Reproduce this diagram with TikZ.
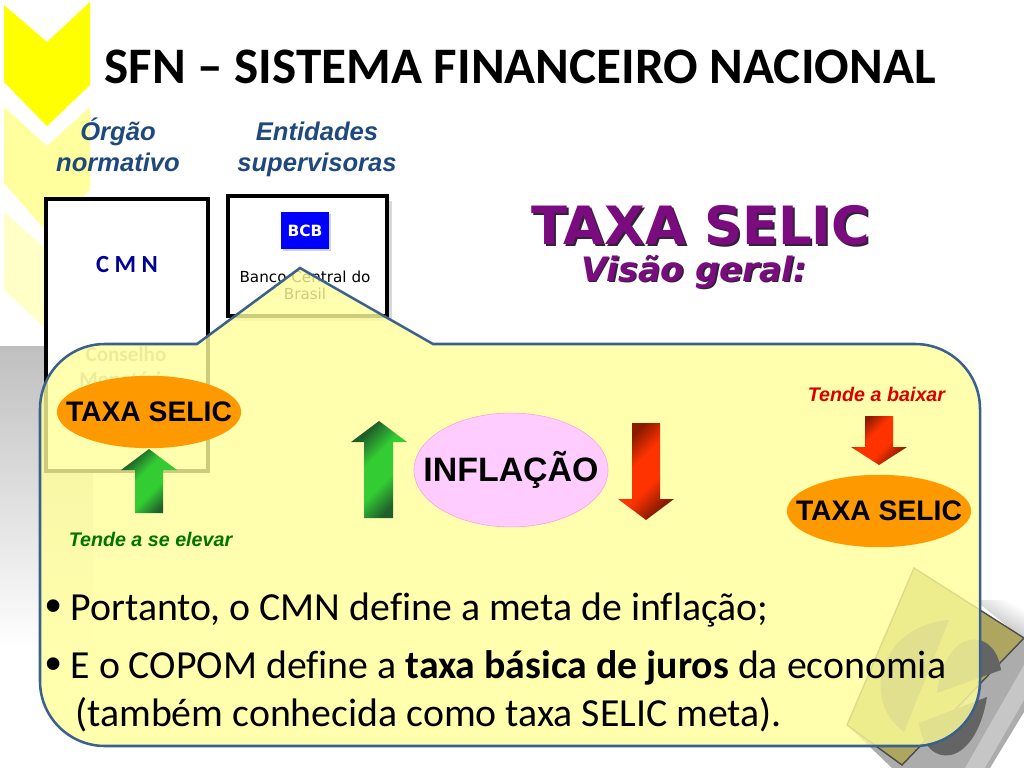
\documentclass[tikz,border=0pt]{standalone}
\usepackage{fontspec}
\usepackage{tikz}
\usetikzlibrary{positioning, shapes.geometric, shadows}
\setmainfont[Ligatures=CommonOff]{Carlito}
\newfontfamily\arialfont{Liberation Sans}
\newfontfamily\verdanafont{DejaVu Sans}
\definecolor{chevronyellow}{HTML}{FFFF00}
\definecolor{labelblue}{HTML}{1F497D}
\definecolor{panelfill}{HTML}{FFFF9A}
\definecolor{paneledge}{HTML}{3A6090}
\definecolor{selicorange}{HTML}{FF9900}
\definecolor{titlepurple}{HTML}{7A0C80}
\definecolor{titleshade}{HTML}{33203A}
\definecolor{inflapink}{HTML}{FFCCFF}
\definecolor{greenmid}{HTML}{33CC33}
\definecolor{greendark}{HTML}{1F5F2B}
\definecolor{redmid}{HTML}{FF3300}
\definecolor{reddark}{HTML}{8B1A00}
\definecolor{logoolive}{HTML}{AEA660}
\definecolor{logodisc}{HTML}{646464}
\pgfdeclarehorizontalshading{greenfade}{100bp}{color(0bp)=(greendark); color(27bp)=(greendark); color(42bp)=(greenmid); color(58bp)=(greenmid); color(73bp)=(greendark); color(100bp)=(greendark)}
\pgfdeclarehorizontalshading{redfade}{100bp}{color(0bp)=(reddark); color(27bp)=(reddark); color(42bp)=(redmid); color(58bp)=(redmid); color(73bp)=(reddark); color(100bp)=(reddark)}
\newcommand{\ovaltext}[1]{\makebox[0pt]{\raisebox{-0.5pt}{#1}}}
\newcommand{\bulletmark}{\makebox[18pt][l]{\arialfont\fontsize{33}{30}\selectfont\raisebox{-1pt}{\textbullet}}}
\tikzset{
    pagetitle/.style={font=\bfseries\fontsize{36.4}{40}\selectfont},
    orglabel/.style={font=\arialfont\bfseries\itshape\fontsize{18.2}{22}\selectfont, text=labelblue, align=center},
    orgbox/.style={draw=black, line width=2.4pt, fill=white},
    selicoval/.style={ellipse, fill=selicorange, minimum width=131pt, minimum height=51.5pt, inner sep=0pt, font=\arialfont\bfseries\fontsize{20.1}{22}\selectfont},
    bodytext/.style={font=\fontsize{28.3}{30}\selectfont, anchor=base west, inner sep=0pt},
    uparrow/.style={shading=greenfade, shading angle=-45},
    downarrow/.style={shading=redfade, shading angle=-45},
}
\begin{document}
\begin{tikzpicture}[x=0.025cm, y=-0.025cm]
    \useasboundingbox (0,0) rectangle (1024,768);

    % Chevrons
    \fill[chevronyellow] (4,5) -- (47,42) -- (90,2) -- (90,85) -- (47,126) -- (4,82) -- cycle;
    \fill[chevronyellow!38] (4,107) -- (47,146) -- (90,107) -- (90,190) -- (47,232) -- (4,183) -- cycle;
    \fill[chevronyellow!22] (4,212) -- (47,250) -- (90,212) -- (90,290) -- (47,330) -- (4,290) -- cycle;

    % Grey fade
    \shade[top color=gray!50, bottom color=white] (0,346) rectangle (93,650);

    % Title
    \node[pagetitle] (sfntitle) at (520,67) {SFN -- SISTEMA FINANCEIRO NACIONAL};
    \node[orglabel] (orglabel) at (118,145) {Órgão\\normativo};
    \node[orglabel] (entlabel) at (317,149) {Entidades\\supervisoras};

    % CMN box
    \draw[orgbox] (46,199) rectangle (208,471);
    \node[font=\bfseries\fontsize{17.5}{20}\selectfont, text=blue!60!black] (cmnlabel) at (127,265) {C M N};
    \node[font=\bfseries\fontsize{15}{18}\selectfont, text=gray!75, align=center] (cmnname) at (126,367) {Conselho\\Monetário};

    % BCB box
    \draw[orgbox, drop shadow={shadow xshift=3.5pt, shadow yshift=-3.5pt, fill=gray!60}] (228,196) rectangle (387,316);
    \node[fill=blue, text=white, minimum width=34pt, minimum height=26.5pt, inner sep=0pt, font=\verdanafont\bfseries\fontsize{11}{14}\selectfont, drop shadow={shadow xshift=1.5pt, shadow yshift=-1.5pt, fill=gray!70}] (bcblogo) at (305,230.5) {BCB};
    \node[font=\verdanafont\fontsize{10.8}{12}\selectfont, align=center] (bcbname) at (305,285.5) {Banco Central do\\Brasil};

    % Selic heading
    \node[font=\verdanafont\bfseries\fontsize{37.5}{40}\selectfont, text=titleshade] (selicshade) at (703,227) {TAXA SELIC};
    \node[font=\verdanafont\bfseries\fontsize{37.5}{40}\selectfont, text=titlepurple] (selichead) at (701,225) {TAXA SELIC};
    \node[font=\verdanafont\bfseries\itshape\fontsize{23.9}{26}\selectfont, text=titleshade] (visaoshade) at (695.5,273.5) {Visão geral:};
    \node[font=\verdanafont\bfseries\itshape\fontsize{23.9}{26}\selectfont, text=titlepurple] (visaohead) at (694,272) {Visão geral:};

    % Logo
    \shade[top color=white, bottom color=gray!70, shading angle=-30] (975,600) -- (1024,600) -- (1024,640) -- cycle;
    \fill[gray!65] (914,570) -- (1024,638) -- (1024,712) -- (990,768) -- (892,768) -- (847,725) -- cycle;
    \fill[gray!45] (1024,665) -- (1024,700) -- (985,768) -- (965,768) -- cycle;
    \fill[logoolive] (914,568) -- (1024,638) -- (902,765) -- (847,725) -- cycle;
    \draw[gray!60!black, line width=1pt] (914,568) -- (1024,638) -- (902,765) -- (847,725) -- cycle;
    \fill[logodisc] (949,620) .. controls (880,625) and (860,700) .. (904,732) -- cycle;
    \fill[logodisc] (937,693) .. controls (945,626) and (995,626) .. (1001,670) -- cycle;
    \fill[logodisc] (919,723) .. controls (925,770) and (975,770) .. (987,697) -- cycle;

    % Panel
    \draw[draw=paneledge, line width=1.8pt, fill=panelfill, fill opacity=0.8]
        (105,344) -- (197,344) -- (300,268) -- (433,344) -- (915,344)
        arc[start angle=-90, end angle=0, radius=65] -- (980,681)
        arc[start angle=0, end angle=90, radius=65] -- (105,746)
        arc[start angle=90, end angle=180, radius=65] -- (40,409)
        arc[start angle=180, end angle=270, radius=65] -- cycle;

    % Left oval
    \node[selicoval] (selicup) at (149,412) {\ovaltext{TAXA SELIC}};
    \shade[uparrow] (149,449) -- (177,470) -- (163,470) -- (163,513) -- (135,513) -- (135,470) -- (121,470) -- cycle;
    \node[font=\arialfont\bfseries\itshape\fontsize{14}{16}\selectfont, text=green!45!black] (elevar) at (150.5,539) {Tende a se elevar};

    % Centre
    \shade[uparrow] (379,421) -- (407,442) -- (393,442) -- (393,518) -- (364,518) -- (364,442) -- (351,442) -- cycle;
    \node[ellipse, fill=inflapink, draw=pink!60!magenta!70, minimum width=138pt, minimum height=81pt, inner sep=0pt, font=\arialfont\bfseries\fontsize{24.1}{26}\selectfont] (inflacao) at (511,470) {\ovaltext{INFLAÇÃO}};
    \shade[downarrow] (632,423) -- (660,423) -- (660,499) -- (674,499) -- (646,520) -- (618,499) -- (632,499) -- cycle;

    % Right oval
    \node[font=\arialfont\bfseries\itshape\fontsize{14}{16}\selectfont, text=red!85!black] (baixar) at (876.5,394) {Tende a baixar};
    \shade[downarrow] (865,416) -- (893,416) -- (893,447) -- (907,447) -- (879,465) -- (851,447) -- (865,447) -- cycle;
    \node[selicoval] (selicdown) at (879,511) {\ovaltext{TAXA SELIC}};

    % Text
    \node[bodytext] (bulleta) at (45,620) {\bulletmark Portanto, o CMN define a meta de inflação;};
    \node[bodytext] (bulletb) at (45,678) {\bulletmark E o COPOM define a \textbf{taxa básica de juros} da economia};
    \node[bodytext] (bulletc) at (75,726) {(também conhecida como taxa SELIC meta).};
\end{tikzpicture}
\end{document}
